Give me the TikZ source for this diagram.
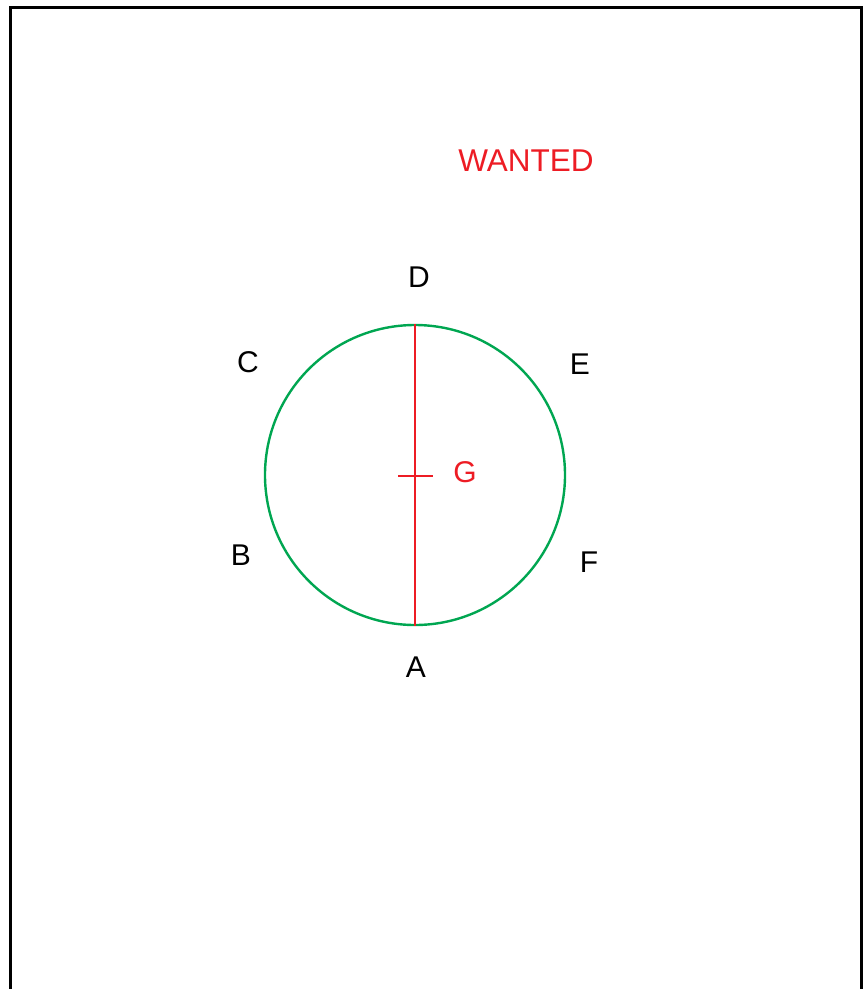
\documentclass[tikz,border=0pt]{standalone}
\usepackage{fontspec}
\setmainfont{Liberation Sans}
\usepackage{tikz}
\usetikzlibrary{calc,positioning}
\definecolor{wantred}{RGB}{237,28,36}
\definecolor{ringgreen}{RGB}{0,166,81}

\begin{document}
\begin{tikzpicture}[x=1pt, y=-1pt, label/.style={inner sep=0pt, font=\fontsize{30}{35}\selectfont}, red label/.style={label, text=wantred}]
		\useasboundingbox (0, 0) rectangle (864, 989);
		\draw [line width=3pt] (10, 989) -- (10, 7) -- (861, 7) -- (861, 989);
		%circle and its diameter
		\node [circle, draw=ringgreen, line width=2.4pt, minimum size=300pt, inner sep=0pt] (ring) at (415, 475) {};
		\draw [wantred, line width=2.4pt] (ring.north) -- (ring.south);
		\coordinate (tickL) at ($(ring.center) + (-17, 1)$);
		\coordinate (tickR) at ($(ring.center) + (18, 1)$);
		\draw [wantred, line width=2.4pt] (tickL) -- (tickR);
		\node [red label, font=\fontsize{31.5}{36}\selectfont] (wanted) at (526, 161) {WANTED};
		\node [red label] (g) at (465, 472) {G};
		\node [label] (d) at (419, 277) {D};
		\node [label] (c) at (248, 362) {C};
		\node [label] (e) at (580, 364) {E};
		\node [label] (b) at (241, 555) {B};
		\node [label] (f) at (589, 562) {F};
		\node [label] (a) at (416, 667) {A};
	\end{tikzpicture}
\end{document}
